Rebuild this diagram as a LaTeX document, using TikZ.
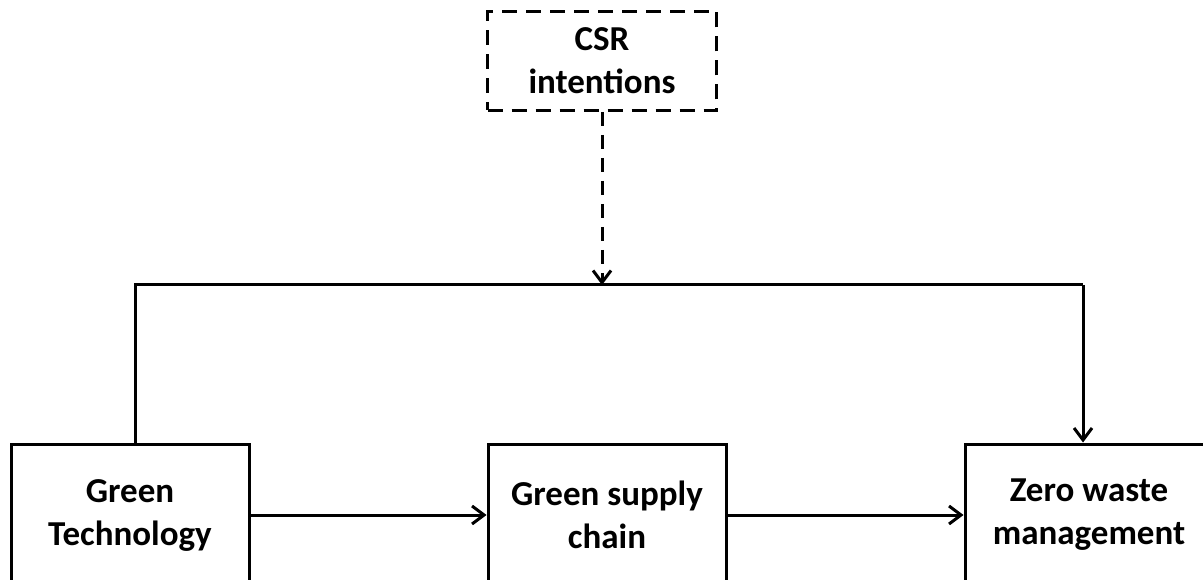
\documentclass[tikz,border=0pt]{standalone}
\usepackage{fontspec}
\setmainfont{Carlito}
\usetikzlibrary{arrows.meta}
\begin{document}
\begin{tikzpicture}[x=1pt,y=-1pt,
  lw/.style={line width=3pt},
  txt/.style={align=center,inner sep=0pt,font=\fontsize{35}{43}\selectfont\bfseries},
  box/.style={draw,lw,txt,minimum width=238pt,minimum height=142pt},
  dbox/.style={draw,lw,txt,dash pattern=on 15pt off 9pt,minimum width=229pt,minimum height=99pt},
  conn/.style={lw,-{Straight Barb[length=12pt,width=18pt,line width=3pt]}},
  dconn/.style={conn,dash pattern=on 14pt off 9pt}]
\useasboundingbox (0,0) rectangle (1203,580);
\clip (0,0) rectangle (1203,580);
\node[dbox] (csr) at (602,61) {CSR\\intentions};
\node[box] (gt) at (130,515) {Green\\Technology};
\node[box] (gs) at (607,515) {Green supply\\chain};
\node[box,minimum width=248pt] (zw) at (1089,515) {Zero waste\\management};
\coordinate (tl) at (135,285);
\coordinate (tr) at (1083,285);
\coordinate (mid) at (602,285);
\draw[lw] (gt.north -| tl) -- (tl) -- (tr);
\draw[conn] (tr) -- (zw.north -| tr);
\draw[dconn] (csr.south) -- (mid);
\draw[conn] (gt.east) -- (gs.west);
\draw[conn] (gs.east) -- (zw.west);
\end{tikzpicture}
\end{document}
